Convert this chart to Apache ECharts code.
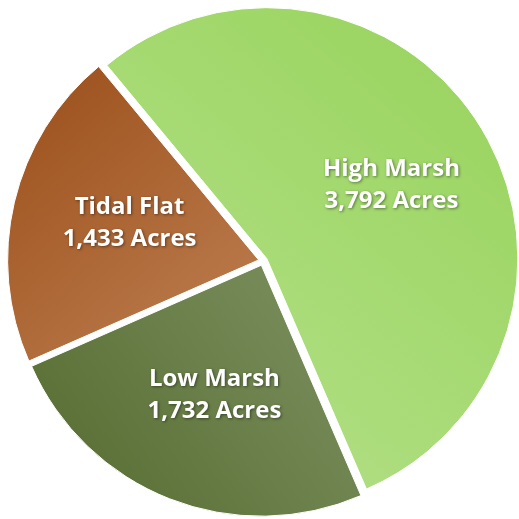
<!DOCTYPE html>
<html>
<head>
<meta charset="utf-8">
<script src="https://cdn.jsdelivr.net/npm/echarts@6/dist/echarts.min.js"></script>
<style>
  html, body { margin: 0; padding: 0; background: #fff; }
  #chart { width: 519px; height: 519px; }
</style>
</head>
<body>
<div id="chart"></div>
<script>
  // marsh habitat areas, acres
  var categories = ["High Marsh", "Low Marsh", "Tidal Flat"];
  var acres = [3792, 1732, 1433];
  var unitLabel = "Acres";

  // fill gradients per slice: [x, y, x2, y2, fromColor, toColor]
  var fills = [
    [0, 1, 1, 0, "#b6e18c", "#97d35b"],
    [1, 0, 0, 1, "#7e9262", "#546a2e"],
    [0, 0, 1, 1, "#9a4e19", "#bf8052"]
  ];
  // nudges for the inside labels
  var labelNudge = [[15, -6], [0, 10], [-4, -7]];

  function fmt(n) {
    return String(n).replace(/\B(?=(\d{3})+(?!\d))/g, ",");
  }

  var data = categories.map(function (name, i) {
    var f = fills[i];
    return {
      name: name,
      value: acres[i],
      selected: true,
      itemStyle: {
        color: new echarts.graphic.LinearGradient(f[0], f[1], f[2], f[3], [
          { offset: 0, color: f[4] },
          { offset: 1, color: f[5] }
        ])
      }
    };
  });

  var chart = echarts.init(document.getElementById("chart"));
  chart.setOption({
    animation: false,
    series: [
      {
        type: "pie",
        center: [263, 261],
        radius: 251,
        startAngle: 129.6,
        clockwise: true,
        selectedMode: "multiple",
        selectedOffset: 4.5,
        silent: true,
        emphasis: { disabled: true },
        itemStyle: { borderColor: "#fff", borderWidth: 1 },
        label: {
          show: true,
          position: "inside",
          color: "#fff",
          fontFamily: "Open Sans",
          fontWeight: "bold",
          fontSize: 24,
          lineHeight: 32,
          align: "center",
          textShadowColor: "rgba(0,0,0,0.45)",
          textShadowBlur: 3,
          textShadowOffsetX: 1,
          textShadowOffsetY: 1,
          formatter: function (p) {
            return p.name + "\n" + fmt(p.value) + " " + unitLabel;
          }
        },
        labelLayout: function (p) {
          var n = labelNudge[p.dataIndex];
          return { dx: n[0], dy: n[1] };
        },
        labelLine: { show: false },
        data: data
      }
    ]
  });
</script>
</body>
</html>
